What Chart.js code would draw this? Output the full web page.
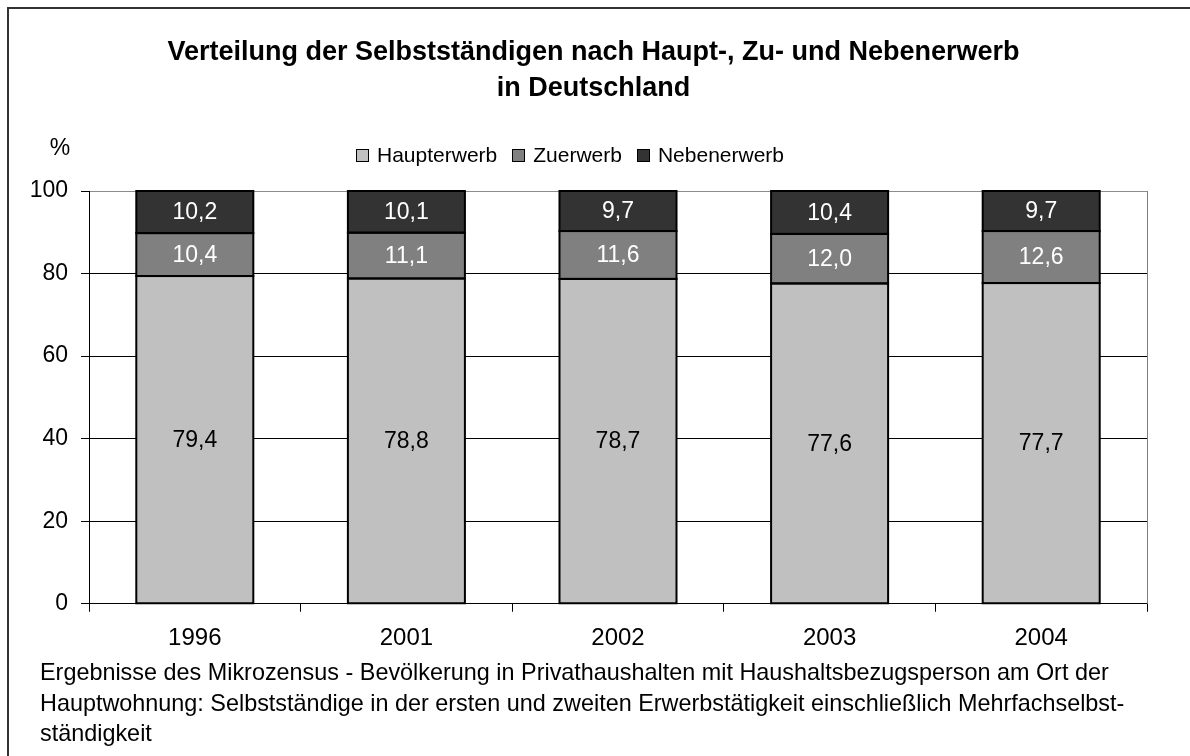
<!DOCTYPE html>
<html lang="de">
<head>
<meta charset="utf-8">
<title>Verteilung der Selbstständigen</title>
<script src="https://cdn.jsdelivr.net/npm/chart.js@4/dist/chart.umd.min.js"></script>
<style>
  html, body { margin: 0; padding: 0; background: #fff; }
  #chart { display: block; }
</style>
</head>
<body>
<canvas id="chart" width="1190" height="756"></canvas>
<script>
// data (percent)
const years = ['1996', '2001', '2002', '2003', '2004'];
const haupterwerb = [79.4, 78.8, 78.7, 77.6, 77.7];
const zuerwerb = [10.4, 11.1, 11.6, 12.0, 12.6];
const nebenerwerb = [10.2, 10.1, 9.7, 10.4, 9.7];
const yTicks = [0, 20, 40, 60, 80, 100];

const titleLines = [
  'Verteilung der Selbstständigen nach Haupt-, Zu- und Nebenerwerb',
  'in Deutschland'
];
const noteLines = [
  'Ergebnisse des Mikrozensus - Bevölkerung in Privathaushalten mit Haushaltsbezugsperson am Ort der',
  'Hauptwohnung: Selbstständige in der ersten und zweiten Erwerbstätigkeit einschließlich Mehrfachselbst-',
  'ständigkeit'
];

const FONT = "'Liberation Sans', Arial, sans-serif";

function fmt(v) {
  return v.toFixed(1).replace('.', ',');
}

// black outline of every segment (stroked on the edge, so stacked
// segments share one line without a light seam) and the values inside
const barLabels = {
  id: 'barLabels',
  afterDatasetsDraw(chart) {
    const ctx = chart.ctx;
    ctx.save();
    ctx.strokeStyle = '#000';
    ctx.lineWidth = 2;
    chart.data.datasets.forEach((ds, i) => {
      chart.getDatasetMeta(i).data.forEach(bar => {
        const top = Math.min(bar.y, bar.base);
        ctx.strokeRect(bar.x - bar.width / 2, top, bar.width, Math.abs(bar.base - bar.y));
      });
    });

    ctx.font = '23px ' + FONT;
    ctx.textAlign = 'center';
    ctx.textBaseline = 'middle';
    chart.data.datasets.forEach((ds, i) => {
      chart.getDatasetMeta(i).data.forEach((bar, j) => {
        ctx.fillStyle = ds.labelColor;
        ctx.fillText(fmt(ds.data[j]), bar.x, (bar.y + bar.base) / 2 + 1);
      });
    });
    ctx.restore();
  }
};

// frame, plot border, "%" and legend
const extras = {
  id: 'extras',
  afterLayout(chart) {
    // the y labels are clipped to the scale box, let it reach the left edge
    chart.scales.y.left = 0;
  },
  afterDraw(chart) {
    const ctx = chart.ctx;
    const area = chart.chartArea;
    ctx.save();

    ctx.strokeStyle = '#333';
    ctx.lineWidth = 2;
    ctx.beginPath();
    ctx.moveTo(8, chart.height);
    ctx.lineTo(8, 8);
    ctx.lineTo(chart.width, 8);
    ctx.stroke();

    ctx.strokeStyle = '#808080';
    ctx.lineWidth = 1;
    const rx = Math.round(area.right) + 0.5;
    ctx.beginPath();
    ctx.moveTo(rx, area.top);
    ctx.lineTo(rx, area.bottom);
    ctx.stroke();

    ctx.fillStyle = '#000';
    ctx.font = '23px ' + FONT;
    ctx.textAlign = 'center';
    ctx.textBaseline = 'middle';
    ctx.fillText('%', area.left - 29, area.top - 42);

    // legend
    ctx.font = '21px ' + FONT;
    ctx.textAlign = 'left';
    const box = 13, gap = 8, between = 15;
    const items = chart.data.datasets.map(ds => ({
      text: ds.label, color: ds.backgroundColor, w: ctx.measureText(ds.label).width
    }));
    let total = 0;
    items.forEach((it, i) => { total += box + gap + it.w + (i ? between : 0); });
    let x = 570 - total / 2;
    const cy = area.top - 36;
    items.forEach(it => {
      const bx = Math.round(x), by = Math.round(cy - box / 2);
      ctx.fillStyle = it.color;
      ctx.fillRect(bx, by, box, box);
      ctx.strokeStyle = '#000';
      ctx.lineWidth = 1;
      ctx.strokeRect(bx + 0.5, by + 0.5, box - 1, box - 1);
      ctx.fillStyle = '#000';
      ctx.fillText(it.text, x + box + gap, cy + 1);
      x += box + gap + it.w + between;
    });
    ctx.restore();
  }
};

new Chart(document.getElementById('chart'), {
  type: 'bar',
  data: {
    labels: years,
    datasets: [
      {
        label: 'Haupterwerb',
        data: haupterwerb,
        backgroundColor: '#c0c0c0',
        labelColor: '#000'
      },
      {
        label: 'Zuerwerb',
        data: zuerwerb,
        backgroundColor: '#808080',
        labelColor: '#fff'
      },
      {
        label: 'Nebenerwerb',
        data: nebenerwerb,
        backgroundColor: '#333333',
        labelColor: '#fff'
      }
    ]
  },
  options: {
    responsive: false,
    animation: false,
    devicePixelRatio: 1,
    layout: { padding: { left: 40, right: 43, top: 0, bottom: 6 } },
    datasets: {
      bar: {
        borderWidth: 0,
        inflateAmount: 0,
        categoryPercentage: 1,
        barPercentage: 0.553
      }
    },
    plugins: {
      legend: { display: false },
      tooltip: { enabled: false },
      title: {
        display: true,
        text: titleLines,
        color: '#000',
        font: { family: FONT, size: 27, weight: 'bold', lineHeight: 36 / 27 },
        padding: { top: 35, bottom: 84 }
      },
      subtitle: {
        display: true,
        position: 'bottom',
        align: 'start',
        text: noteLines,
        color: '#000',
        font: { family: FONT, size: 23.4, lineHeight: 30.5 / 23.4 },
        padding: { top: 0, bottom: 0 }
      }
    },
    scales: {
      x: {
        stacked: true,
        grid: {
          display: true,
          drawOnChartArea: false,
          drawTicks: true,
          tickLength: 8,
          tickColor: '#000'
        },
        border: { color: '#000', width: 1 },
        ticks: {
          color: '#000',
          font: { family: FONT, size: 24 },
          padding: 12
        },
        afterFit(scale) { scale.height = 54.75; }
      },
      y: {
        stacked: true,
        min: 0,
        max: 100,
        afterBuildTicks(scale) { scale.ticks = yTicks.map(v => ({ value: v })); },
        grid: {
          color: c => (c.tick && c.tick.value === 100 ? '#8c8c8c' : '#000'),
          tickColor: '#000',
          tickLength: 8
        },
        border: { color: '#000', width: 1 },
        ticks: {
          color: '#000',
          font: { family: FONT, size: 23 },
          padding: 13
        },
        afterFit(scale) { scale.width = 49; }
      }
    }
  },
  plugins: [barLabels, extras]
});
</script>
</body>
</html>
